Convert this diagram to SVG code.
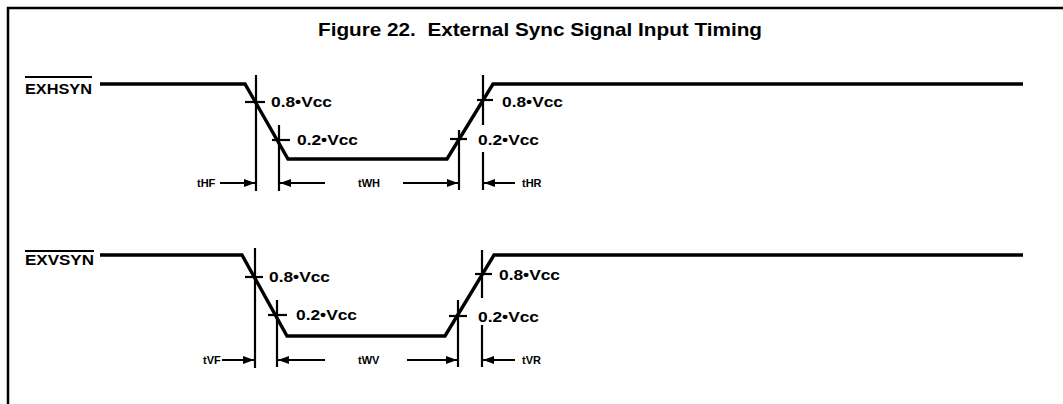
<svg xmlns="http://www.w3.org/2000/svg" width="1063" height="404" viewBox="0 0 1063 404">
<style>
.frame{fill:none;stroke:#000;stroke-width:2.5}
.sig{fill:none;stroke:#000;stroke-width:3.4;stroke-linejoin:miter}
.ref{fill:none;stroke:#000;stroke-width:2.2}
.arr{fill:none;stroke:#000;stroke-width:2;marker-end:url(#ah)}
.title{font-family:"Liberation Sans",Arial,sans-serif;font-weight:bold;font-size:19px;fill:#000}
.name{font-family:"Liberation Sans",Arial,sans-serif;font-weight:bold;font-size:14.5px;fill:#000}
.lvl{font-family:"Liberation Sans",Arial,sans-serif;font-weight:bold;font-size:14px;fill:#000}
.t{font-family:"Liberation Sans",Arial,sans-serif;font-weight:bold;font-size:11px;fill:#000}
</style>
<defs>
<marker id="ah" markerUnits="userSpaceOnUse" markerWidth="11" markerHeight="8" refX="11" refY="4" orient="auto">
<path d="M0,0 L11,4 L0,8 z" fill="#000"/>
</marker>
</defs>
<rect width="1063" height="404" fill="#fff"/>
<g id="frame">
<path class="frame" d="M8,404 L8,8 L1063,8"/>
</g>
<g id="title">
<text class="title" x="318" y="36" textLength="444" lengthAdjust="spacingAndGlyphs">Figure 22.&#160; External Sync Signal Input Timing</text>
</g>
<g id="exhsyn">
<text class="name" x="25" y="94" textLength="67" lengthAdjust="spacingAndGlyphs">EXHSYN</text>
<line class="ref" x1="25" y1="77" x2="92" y2="77" stroke-width="1.8"/>
<path class="sig" d="M100,84 L245,84 L288,159 L447,159 L493,84 L1023,84"/>
<line class="ref" x1="256" y1="75" x2="256" y2="191"/>
<line class="ref" x1="279" y1="125" x2="279" y2="191"/>
<line class="ref" x1="459" y1="130" x2="459" y2="190"/>
<line class="ref" x1="483" y1="75" x2="483" y2="125"/>
<line class="ref" x1="483" y1="152" x2="483" y2="190"/>
<line class="ref" x1="245" y1="102" x2="265" y2="102"/>
<line class="ref" x1="272" y1="140" x2="290" y2="140"/>
<line class="ref" x1="450" y1="139" x2="467" y2="139"/>
<line class="ref" x1="477" y1="100" x2="493" y2="100"/>
<text class="lvl" x="271" y="107" textLength="61" lengthAdjust="spacingAndGlyphs">0.8•Vcc</text>
<text class="lvl" x="297" y="145" textLength="61" lengthAdjust="spacingAndGlyphs">0.2•Vcc</text>
<text class="lvl" x="478" y="145" textLength="61" lengthAdjust="spacingAndGlyphs">0.2•Vcc</text>
<text class="lvl" x="502" y="107" textLength="61" lengthAdjust="spacingAndGlyphs">0.8•Vcc</text>
<text class="t" x="197" y="187">tHF</text>
<text class="t" x="358" y="187">tWH</text>
<text class="t" x="522" y="187">tHR</text>
</g>
<g id="exvsyn">
<text class="name" x="25" y="265" textLength="69" lengthAdjust="spacingAndGlyphs">EXVSYN</text>
<line class="ref" x1="25" y1="251" x2="94" y2="251" stroke-width="1.8"/>
<path class="sig" d="M100,255 L242,255 L287,336 L445,336 L494,255 L1023,255"/>
<line class="ref" x1="255" y1="248" x2="255" y2="368"/>
<line class="ref" x1="277" y1="300" x2="277" y2="367"/>
<line class="ref" x1="458" y1="300" x2="458" y2="367"/>
<line class="ref" x1="482" y1="250" x2="482" y2="298"/>
<line class="ref" x1="482" y1="325" x2="482" y2="367"/>
<line class="ref" x1="245" y1="277" x2="263" y2="277"/>
<line class="ref" x1="268" y1="315" x2="287" y2="315"/>
<line class="ref" x1="449" y1="316" x2="467" y2="316"/>
<line class="ref" x1="475" y1="274" x2="492" y2="274"/>
<text class="lvl" x="269" y="282" textLength="61" lengthAdjust="spacingAndGlyphs">0.8•Vcc</text>
<text class="lvl" x="296" y="320" textLength="61" lengthAdjust="spacingAndGlyphs">0.2•Vcc</text>
<text class="lvl" x="478" y="322" textLength="61" lengthAdjust="spacingAndGlyphs">0.2•Vcc</text>
<text class="lvl" x="499" y="280" textLength="61" lengthAdjust="spacingAndGlyphs">0.8•Vcc</text>
<text class="t" x="203" y="364">tVF</text>
<text class="t" x="358" y="364">tWV</text>
<text class="t" x="522" y="364">tVR</text>
</g>
<g id="connectors">
<line class="arr" x1="220" y1="183" x2="255" y2="183"/>
<line class="arr" x1="325" y1="183" x2="280" y2="183"/>
<line class="arr" x1="403" y1="183" x2="458" y2="183"/>
<line class="arr" x1="515" y1="183" x2="484" y2="183"/>
<line class="arr" x1="222" y1="360" x2="254" y2="360"/>
<line class="arr" x1="325" y1="360" x2="278" y2="360"/>
<line class="arr" x1="407" y1="360" x2="457" y2="360"/>
<line class="arr" x1="515" y1="360" x2="483" y2="360"/>
</g>
</svg>
